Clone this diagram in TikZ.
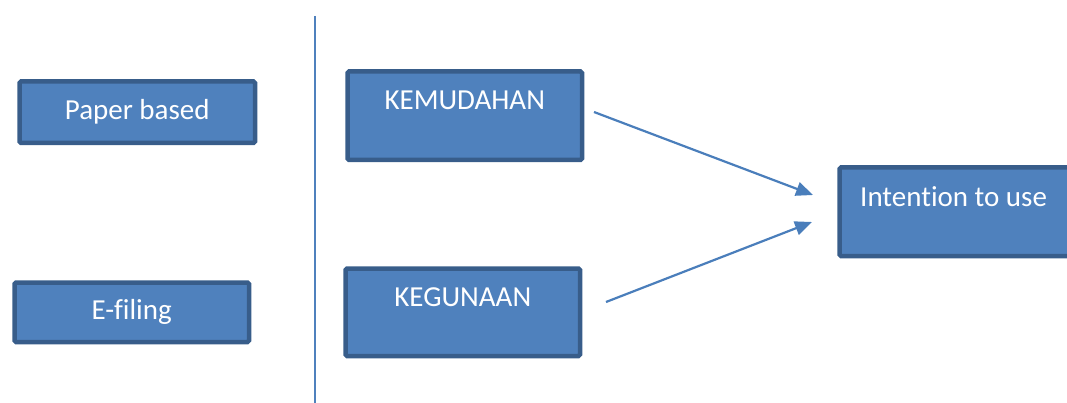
\documentclass[tikz,border=0pt]{standalone}
\usepackage{fontspec}
\setmainfont{Carlito}[Ligatures=NoCommon]
\usetikzlibrary{arrows.meta}
\definecolor{boxfill}{HTML}{4F81BD}
\definecolor{boxline}{HTML}{385D8A}
\definecolor{arrowcol}{HTML}{4A7EBB}
\begin{document}
\begin{tikzpicture}[x=1pt,y=-1pt,
  box/.style={draw=boxline, fill=boxfill, line width=4.5pt, rounded corners=1.5pt, rectangle, anchor=north west, inner sep=0pt},
  txt/.style={text=white, font=\fontsize{29}{34}\selectfont, inner sep=0pt},
  conn/.style={draw=arrowcol, line width=2.2pt, -{Triangle[length=17pt,width=14pt]}},
  divider/.style={draw=boxfill, line width=2pt}]
\useasboundingbox (0,0) rectangle (1067,403);
\clip (0,0) rectangle (1067,403);
% divider
\coordinate (dtop) at (315,16);
\coordinate (dbot) at (315,403);
\draw[divider] (dtop) -- (dbot);
% boxes
\node[box, minimum width=235.5pt, minimum height=61.5pt] (paper) at (17.25,79.25) {};
\node[txt] (papert) at (paper.center) {Paper based};
\node[box, minimum width=234.5pt, minimum height=59.5pt] (efil) at (12.25,280.25) {};
\node[txt] (efilt) at (efil.center) {E-filing};
\node[box, minimum width=234.5pt, minimum height=88.5pt] (kem) at (345.25,69.25) {};
\node[txt] (kemt) at ([yshift=-31.5pt]kem.north) {KEMUDAHAN};
\node[box, minimum width=234.5pt, minimum height=87.5pt] (keg) at (343.25,266.25) {};
\node[txt] (kegt) at ([yshift=-31pt]keg.north) {KEGUNAAN};
\node[box, minimum width=245pt, minimum height=88.5pt] (int) at (837.25,165.25) {};
\node[txt, anchor=west] (intt) at (860,197) {Intention to use};
% arrows
\coordinate (a1s) at (594,112);
\coordinate (a1e) at (813,195);
\coordinate (a2s) at (606,302);
\coordinate (a2e) at (812,222);
\draw[conn] (a1s) -- (a1e);
\draw[conn] (a2s) -- (a2e);
\end{tikzpicture}
\end{document}
